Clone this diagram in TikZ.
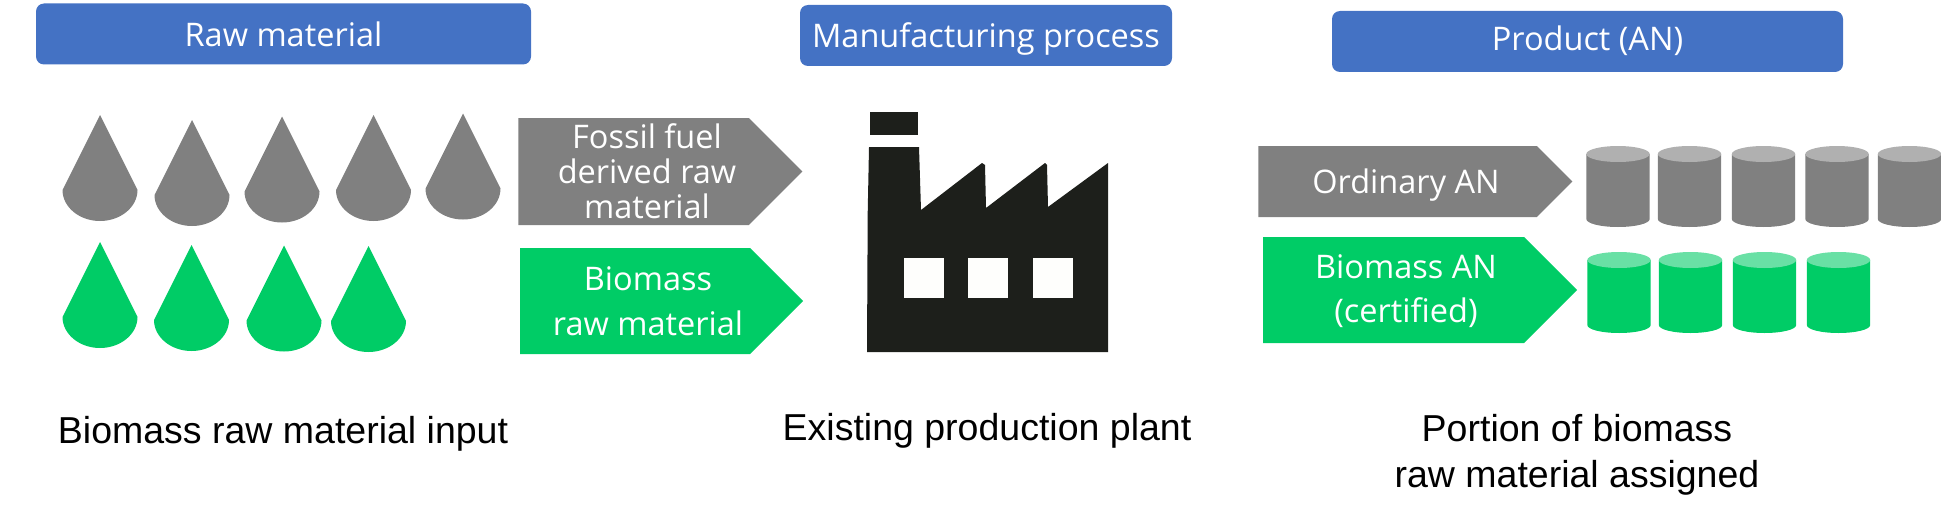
\documentclass[tikz,border=0pt]{standalone}
\usepackage{fontspec}
\usepackage{xcolor}
\usepackage{tikz}
\usetikzlibrary{positioning,shapes.symbols}
\setmainfont{Open Sans}
\newfontfamily\captionfont{Liberation Sans}
\definecolor{headblue}{HTML}{4472C4}
\definecolor{fossilgray}{HTML}{808080}
\definecolor{fossiltop}{HTML}{B0B0B0}
\definecolor{biogreen}{HTML}{00CC66}
\definecolor{biotop}{HTML}{69E0A5}
\definecolor{plantdark}{HTML}{1D1F1B}
\definecolor{plantlight}{HTML}{FEFEFC}

\begin{document}
\begin{tikzpicture}[
  x=1pt, y=-1pt,
  header/.style={rectangle, fill=headblue, text=white, rounded corners=8pt,
                 font=\fontsize{32.5}{38}\selectfont, inner sep=0pt, minimum height=61pt},
  flow/.style={signal, signal to=east, signal from=nowhere, signal pointer angle=90,
               inner sep=0pt},
  flowtext/.style={text=white, align=center, inner sep=0pt},
  caption/.style={font=\captionfont\fontsize{37.5}{46}\selectfont, align=center, inner sep=0pt},
  window/.style={fill=plantlight, minimum size=40pt, inner sep=0pt},
  drop/.pic={
    \path[pic actions] (-37.5,0) -- (0,-75) -- (37.5,0)
      .. controls (37.5,17) and (20.7,31) .. (0,31)
      .. controls (-20.7,31) and (-37.5,17) .. (-37.5,0) -- cycle;
  },
  can/.pic={
    \path[pic actions] (-31.7,-32.5) -- (-31.7,32.5)
      .. controls (-31.7,37) and (-17.5,40.5) .. (0,40.5)
      .. controls (17.5,40.5) and (31.7,37) .. (31.7,32.5) -- (31.7,-32.5) -- cycle;
    \path[fill=captop] (0,-32.5) circle[x radius=31.7pt, y radius=8pt];
  }
]
  \useasboundingbox (0,0) rectangle (1941,519);

  % column headers
  \node[header, minimum width=495pt] (rawhead) at (283.5,34) {Raw material};
  \node[header, minimum width=372pt, text depth=0pt] (mfghead) at (986,35.5) {Manufacturing process};
  \node[header, minimum width=511pt, text depth=6pt] (prodhead) at (1587.5,41.5) {Product (AN)};

  % drops
  \pic[fill=fossilgray] (fdrop1) at (100,190) {drop};
  \pic[fill=fossilgray] (fdrop2) at (192,195) {drop};
  \pic[fill=fossilgray] (fdrop3) at (282,191.5) {drop};
  \pic[fill=fossilgray] (fdrop4) at (373.5,190) {drop};
  \pic[fill=fossilgray] (fdrop5) at (463,188.5) {drop};
  \pic[fill=biogreen] (bdrop1) at (100,317) {drop};
  \pic[fill=biogreen] (bdrop2) at (191.5,320) {drop};
  \pic[fill=biogreen] (bdrop3) at (284,320.5) {drop};
  \pic[fill=biogreen] (bdrop4) at (368.5,321) {drop};

  % flows
  \node[flow, fill=fossilgray, minimum width=284pt, minimum height=107pt] (fossilflow) at (633.5,171.5) {};
  \node[flow, fill=biogreen, minimum width=283pt, minimum height=106pt] (bioflow) at (635,301) {};
  \node[flow, fill=fossilgray, minimum width=314pt, minimum height=71pt] (ordflow) at (1397.5,181.5) {};
  \node[flow, fill=biogreen, minimum width=314pt, minimum height=106pt] (bioanflow) at (1393.5,290) {};
  \node[flowtext, font=\fontsize{32.5}{35}\selectfont, xshift=13.5pt] at (fossilflow) (fossiltext)
        {Fossil fuel\\derived raw\\material};
  \node[flowtext, font=\fontsize{32.5}{45}\selectfont, xshift=13pt] at (bioflow) (biotext)
        {Biomass\\raw material};
  \node[flowtext, font=\fontsize{32.5}{38}\selectfont, xshift=8.5pt, text depth=0pt] at (ordflow) (ordtext) {Ordinary AN};
  \node[flowtext, font=\fontsize{32.5}{44}\selectfont, xshift=12.5pt, yshift=-1.5pt] at (bioanflow) (bioantext)
        {Biomass AN\\(certified)};

  % plant
  \fill[plantdark] (867,352) -- (867.7,213) -- (869,147) -- (919,147) -- (921,210)
    -- (982,163) -- (985,165) -- (986,208) -- (1045,163) -- (1047,165) -- (1048,207)
    -- (1108,163) -- (1108,352) -- cycle;
  \fill[plantdark] (870,112) rectangle (918,135);
  \node[window] (win1) at (924,278) {};
  \node[window, right=24pt of win1] (win2) {};
  \node[window, right=24pt of win2] (win3) {};

  % cans
  \colorlet{captop}{fossiltop}
  \pic[fill=fossilgray] (fcan1) at (1618,186.5) {can};
  \pic[fill=fossilgray] (fcan2) at (1689.5,186.5) {can};
  \pic[fill=fossilgray] (fcan3) at (1763.5,186.5) {can};
  \pic[fill=fossilgray] (fcan4) at (1837,186.5) {can};
  \pic[fill=fossilgray] (fcan5) at (1909.5,186.5) {can};
  \colorlet{captop}{biotop}
  \pic[fill=biogreen] (bcan1) at (1619,292.5) {can};
  \pic[fill=biogreen] (bcan2) at (1690.5,292.5) {can};
  \pic[fill=biogreen] (bcan3) at (1764.5,292.5) {can};
  \pic[fill=biogreen] (bcan4) at (1838.5,292.5) {can};

  % captions
  \node[caption] (rawcap) at (283,434) {Biomass raw material input};
  \node[caption] (mfgcap) at (987,431) {Existing production plant};
  \node[caption] (prodcap) at (1577,455) {Portion of biomass\\raw material assigned};
\end{tikzpicture}
\end{document}
